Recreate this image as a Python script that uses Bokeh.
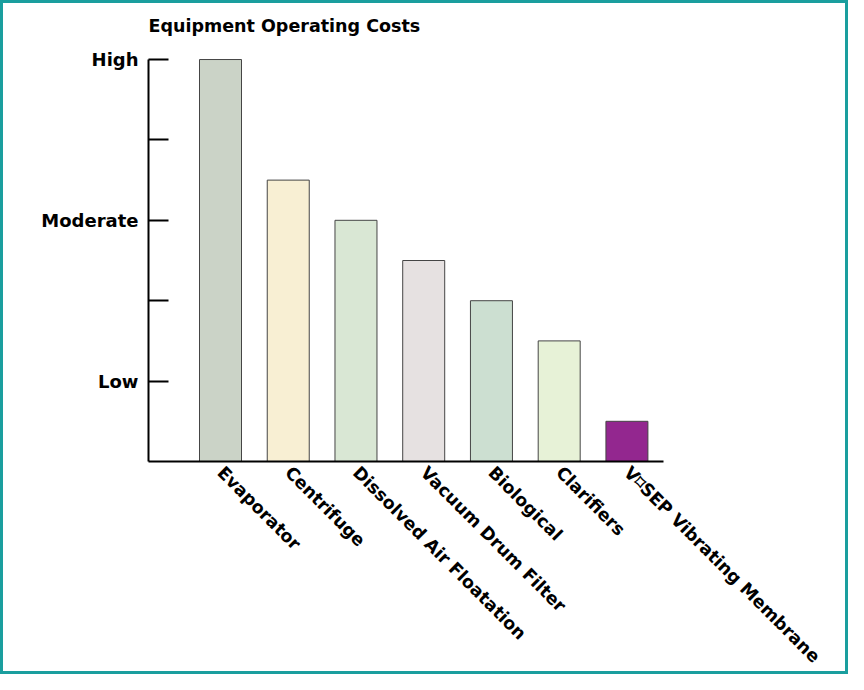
import math
from bokeh.plotting import figure
from bokeh.models import Range1d, FixedTicker, ColumnDataSource
from bokeh.embed import file_html
from bokeh.resources import INLINE

# ---- data ----
categories = ["Evaporator", "Centrifuge", "Dissolved Air Floatation",
              "Vacuum Drum Filter", "Biological", "Clarifiers",
              "V\u2311SEP Vibrating Membrane"]
costs = [5.0, 3.5, 3.0, 2.5, 2.0, 1.5, 0.5]
bar_colors = ["#cbd3c7", "#f8efd3", "#d9e7d4", "#e6e1e1",
              "#ccdfd1", "#e7f2d7", "#93278f"]
y_tick_values = [1, 2, 3, 4, 5]
y_tick_labels = ["Low", "", "Moderate", "", "High"]
title_text = "Equipment Operating Costs"

positions = list(range(len(categories)))
src = ColumnDataSource(dict(x=positions, top=costs, color=bar_colors))

FONT = "DejaVu Sans"

p = figure(width=848, height=674, output_backend="svg", toolbar_location=None,
           x_range=Range1d(-1.063, 6.54), y_range=Range1d(0, 5.249),
           min_border_left=145, min_border_right=188,
           min_border_top=36, min_border_bottom=216,
           title=title_text)

p.vbar(x="x", top="top", width=0.62, bottom=0, source=src,
       fill_color="color", line_color="#454545", line_width=1)

p.background_fill_color = "white"
p.border_fill_color = "white"
p.outline_line_color = None
p.xgrid.grid_line_color = None
p.ygrid.grid_line_color = None

p.title.text_font = FONT
p.title.text_font_style = "bold"
p.title.text_font_size = "17.5px"
p.title.text_color = "black"
p.title.align = "left"
p.title.offset = 0
p.title.standoff = 8

# y axis
ya = p.yaxis[0]
ya.ticker = FixedTicker(ticks=y_tick_values)
ya.major_label_overrides = {v: l for v, l in zip(y_tick_values, y_tick_labels)}
ya.bounds = (0, 5)
ya.major_tick_in = 20
ya.major_tick_out = 0
ya.minor_tick_line_color = None
ya.axis_line_width = 2
ya.major_tick_line_width = 2
ya.axis_line_color = "black"
ya.major_tick_line_color = "black"
ya.major_label_text_font = FONT
ya.major_label_text_font_style = "bold"
ya.major_label_text_font_size = "18px"
ya.major_label_text_color = "black"
ya.major_label_standoff = 10

# x axis
xa = p.xaxis[0]
xa.ticker = FixedTicker(ticks=positions)
xa.major_label_overrides = {i: c for i, c in zip(positions, categories)}
xa.major_tick_in = 0
xa.major_tick_out = 0
xa.minor_tick_line_color = None
xa.axis_line_width = 2
xa.axis_line_color = "black"
xa.major_label_orientation = -math.pi / 4
xa.major_label_text_font = FONT
xa.major_label_text_font_style = "bold"
xa.major_label_text_font_size = "17.5px"
xa.major_label_text_color = "black"
xa.major_label_standoff = 8

p.styles = {"border": "3px solid #1a9e9e", "box-sizing": "border-box"}

open("out.html", "w").write(file_html(p, INLINE))
